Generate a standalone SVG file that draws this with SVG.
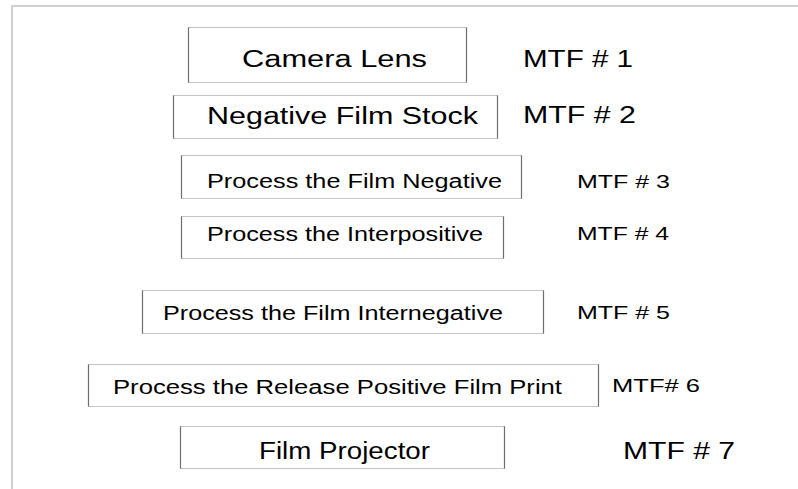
<svg xmlns="http://www.w3.org/2000/svg" width="798" height="489" viewBox="0 0 798 489">
  <style>
    .frame { stroke: #d0d0d0; stroke-width: 2; fill: none; }
    .box { fill: #ffffff; stroke: #c4c4c4; stroke-width: 1; }
    .side { stroke: #6e6e6e; stroke-width: 1.2; }
    text { font-family: "Liberation Sans", Arial, sans-serif; fill: #000000; }
    .big { font-size: 23px; }
    .mid { font-size: 19.5px; }
    .tag { font-size: 18px; }
  </style>
  <rect width="798" height="489" fill="#ffffff"/>
  <!-- page frame: top and left edges only -->
  <path class="frame" d="M12 489 V6 H798"/>

  <g id="camera-lens">
    <rect class="box" x="188.5" y="27.5" width="278" height="55"/>
    <path class="side" d="M188.5 27.5 V82.5 M466.5 27.5 V82.5"/>
    <text class="big" x="242" y="67" textLength="185" lengthAdjust="spacingAndGlyphs">Camera Lens</text>
  </g>
  <text id="mtf-1" class="big" x="523" y="67" textLength="110" lengthAdjust="spacingAndGlyphs">MTF # 1</text>

  <g id="negative-film-stock">
    <rect class="box" x="173.5" y="95.5" width="324" height="43"/>
    <path class="side" d="M173.5 95.5 V138.5 M497.5 95.5 V138.5"/>
    <text class="big" x="207" y="124" textLength="271" lengthAdjust="spacingAndGlyphs">Negative Film Stock</text>
  </g>
  <text id="mtf-2" class="big" x="523" y="123" textLength="113" lengthAdjust="spacingAndGlyphs">MTF # 2</text>

  <g id="process-negative">
    <rect class="box" x="181.5" y="155.5" width="340" height="43"/>
    <path class="side" d="M181.5 155.5 V198.5 M521.5 155.5 V198.5"/>
    <text class="mid" x="207" y="188" textLength="295" lengthAdjust="spacingAndGlyphs">Process the Film Negative</text>
  </g>
  <text id="mtf-3" class="tag" x="577" y="188" textLength="93" lengthAdjust="spacingAndGlyphs">MTF # 3</text>

  <g id="process-interpositive">
    <rect class="box" x="181.5" y="216.5" width="322" height="42"/>
    <path class="side" d="M181.5 216.5 V258.5 M503.5 216.5 V258.5"/>
    <text class="mid" x="207" y="241" textLength="276" lengthAdjust="spacingAndGlyphs">Process the Interpositive</text>
  </g>
  <text id="mtf-4" class="tag" x="577" y="240" textLength="92" lengthAdjust="spacingAndGlyphs">MTF # 4</text>

  <g id="process-internegative">
    <rect class="box" x="142.5" y="290.5" width="401" height="43"/>
    <path class="side" d="M142.5 290.5 V333.5 M543.5 290.5 V333.5"/>
    <text class="mid" x="163" y="320" textLength="340" lengthAdjust="spacingAndGlyphs">Process the Film Internegative</text>
  </g>
  <text id="mtf-5" class="tag" x="577" y="319" textLength="93" lengthAdjust="spacingAndGlyphs">MTF # 5</text>

  <g id="process-release-print">
    <rect class="box" x="88.5" y="364.5" width="510" height="42"/>
    <path class="side" d="M88.5 364.5 V406.5 M598.5 364.5 V406.5"/>
    <text class="mid" x="113" y="394" textLength="449" lengthAdjust="spacingAndGlyphs">Process the Release Positive Film Print</text>
  </g>
  <text id="mtf-6" class="tag" x="612" y="392" textLength="88" lengthAdjust="spacingAndGlyphs">MTF# 6</text>

  <g id="film-projector">
    <rect class="box" x="180.5" y="426.5" width="324" height="42"/>
    <path class="side" d="M180.5 426.5 V468.5 M504.5 426.5 V468.5"/>
    <text class="big" x="259" y="459" textLength="171" lengthAdjust="spacingAndGlyphs">Film Projector</text>
  </g>
  <text id="mtf-7" class="big" x="623" y="459" textLength="112" lengthAdjust="spacingAndGlyphs">MTF # 7</text>
</svg>
